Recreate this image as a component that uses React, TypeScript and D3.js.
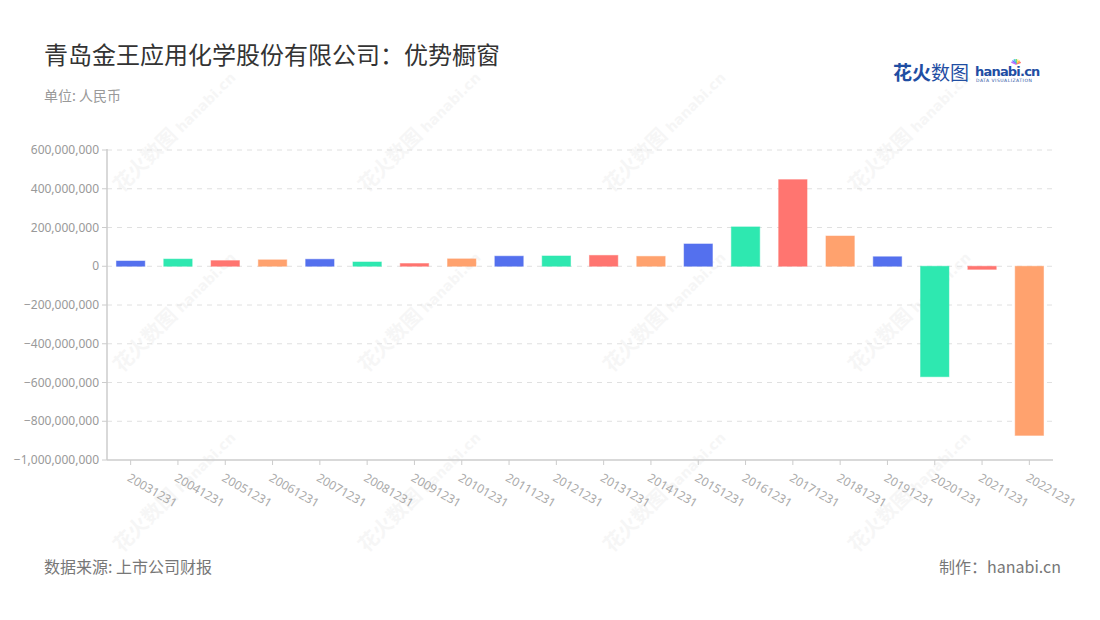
import React from "react";
import * as d3 from "d3";

const categories = ["20031231","20041231","20051231","20061231","20071231","20081231","20091231","20101231","20111231","20121231","20131231","20141231","20151231","20161231","20171231","20181231","20191231","20201231","20211231","20221231"];
const values = [27e6, 37e6, 29e6, 33e6, 36e6, 22e6, 14e6, 38e6, 52e6, 53e6, 56e6, 51e6, 115e6, 203e6, 447e6, 156e6, 49e6, -570e6, -16e6, -873e6];
const yTicks = [600e6, 400e6, 200e6, 0, -200e6, -400e6, -600e6, -800e6, -1000e6];
const palette = ["#5470ee", "#2ee8b0", "#ff7570", "#ffa26e"];

const W = 1100, H = 620;
const left = 107, right = 1053, top = 150, bottom = 460;

export default function App() {
  const x = d3.scaleBand<string>().domain(categories).range([left, right]).paddingInner(0.4).paddingOuter(0.2);
  const xc = d3.scaleBand<string>().domain(categories).range([left, right]);
  const y = d3.scaleLinear().domain([-1000e6, 600e6]).range([bottom, top]);
  const fmt = d3.format(",");
  const wm: [number, number][] = [];
  for (const cx of [150, 395, 640, 885]) for (const cy of [165, 345, 525]) wm.push([cx, cy]);
  return (
    <svg width={W} height={H} style={{ display: "block", position: "absolute", left: 0, top: 0, fontFamily: "'Noto Sans CJK SC','Noto Sans',sans-serif" }}>
      <rect width={W} height={H} fill="#fff" />
      <text x={44} y={64} fontSize={24} fill="#333">青岛金王应用化学股份有限公司：优势橱窗</text>
      <text x={44} y={101} fontSize={14} fill="#999">单位: 人民币</text>
      {/* logo */}
      <g>
        <text x={893} y={80} fontSize={19} fontWeight="bold" fill="#1f4ea3">花火<tspan fontWeight="normal">数图</tspan></text>
        <text x={975} y={76} fontSize={13} fontWeight="bold" fill="#1f4ea3" fontFamily="'DejaVu Sans',sans-serif" letterSpacing={-0.8}>hanabi.cn</text>
        <text x={976} y={82} fontSize={4.5} fill="#1f4ea3" fontFamily="'DejaVu Sans',sans-serif" letterSpacing={0.5}>DATA VISUALIZATION</text>
        {[0, 1, 2, 3, 4, 5, 6].map(i => (
          <line key={i} x1={1016} y1={64} x2={1016 + 5 * Math.cos(-Math.PI * (0.1 + i * 0.13))} y2={64 + 5 * Math.sin(-Math.PI * (0.1 + i * 0.13))} stroke={["#ff6b6b","#ffb347","#ffe066","#5ed36b","#3fc1f0","#6b7bff","#c36bff"][i]} strokeWidth={1.4} />
        ))}
      </g>
      {/* watermarks */}
      {wm.map(([cx, cy], i) => (
        <g key={i} transform={`translate(${cx},${cy}) rotate(-45)`} opacity={0.07}>
          <text x={-40} y={0} fontSize={20} fontWeight="bold" fill="#888">花火数图</text>
          <text x={45} y={0} fontSize={14} fontWeight="bold" fill="#888" fontFamily="'DejaVu Sans',sans-serif">hanabi.cn</text>
        </g>
      ))}
      {/* grid */}
      {yTicks.map(t => (
        <g key={t}>
          {t !== -1000e6 && <line x1={left} x2={right} y1={y(t)} y2={y(t)} stroke="#e0e0e0" strokeDasharray="5,5" />}
          <line x1={left - 5} x2={left} y1={y(t)} y2={y(t)} stroke="#ccc" />
          <text x={left - 8} y={y(t)} dy="0.35em" textAnchor="end" fontSize={12} fill="#999" fontFamily="'Noto Sans',sans-serif">{fmt(t)}</text>
        </g>
      ))}
      {/* bars */}
      {categories.map((c, i) => {
        const v = values[i];
        const y0 = y(Math.max(0, v)), y1 = y(Math.min(0, v));
        return <rect key={c} x={x(c)} y={y0} width={x.bandwidth()} height={y1 - y0} fill={palette[i % 4]} stroke={palette[i % 4]} strokeOpacity={0.5} strokeWidth={1} />;
      })}
      {/* axes */}
      <line x1={left} x2={left} y1={top - 1} y2={bottom} stroke="#ccc" strokeWidth={1.5} />
      <line x1={left} x2={right} y1={bottom} y2={bottom} stroke="#ccc" strokeWidth={1.5} />
      {categories.map(c => {
        const cx = (xc(c) as number) + xc.bandwidth() / 2;
        return (
          <g key={c}>
            <line x1={cx} x2={cx} y1={bottom} y2={bottom + 5} stroke="#ccc" />
            <text transform={`translate(${cx},${bottom + 13}) rotate(30)`} fontSize={12} fill="#aaa" dy="0.7em" fontFamily="'Noto Sans',sans-serif">{c}</text>
          </g>
        );
      })}
      <text x={44} y={573} fontSize={16} fill="#777">数据来源: 上市公司财报</text>
      <text x={1061} y={573} fontSize={16} fill="#777" textAnchor="end">制作：hanabi.cn</text>
    </svg>
  );
}
